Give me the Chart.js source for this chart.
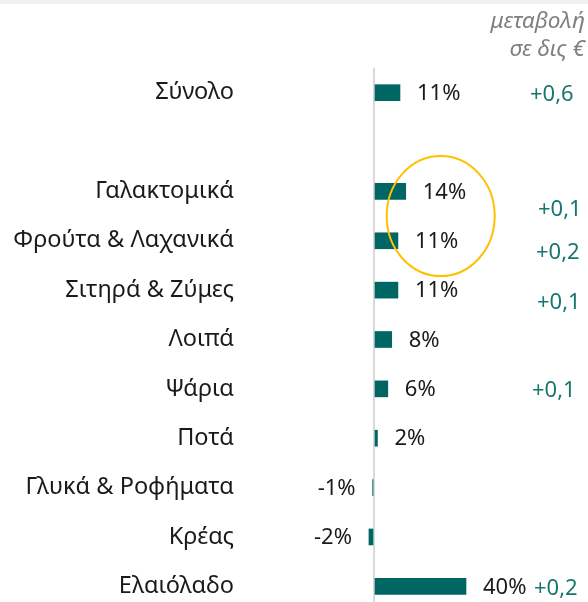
<!DOCTYPE html>
<html>
<head>
<meta charset="utf-8">
<script src="https://cdn.jsdelivr.net/npm/chart.js@4"></script>
<style>
  html, body { margin: 0; padding: 0; background: #fff; overflow: hidden; }
  #strip { position: absolute; left: 0; top: 0; width: 588px; height: 4px; background: #f0f0f0; }
  #wrap { width: 588px; height: 612px; }
</style>
</head>
<body>
<div id="wrap"><canvas id="foodChart" width="588" height="612"></canvas></div>
<div id="strip"></div>
<script>
// κατηγορίες (η κενή θέση είναι το κενό κάτω από το Σύνολο)
const categories = ["Σύνολο", "", "Γαλακτομικά", "Φρούτα & Λαχανικά", "Σιτηρά & Ζύμες",
  "Λοιπά", "Ψάρια", "Ποτά", "Γλυκά & Ροφήματα", "Κρέας", "Ελαιόλαδο"];
// ποσοστιαία μεταβολή (μήκος μπάρας)
const pctChange = [11.3, null, 13.8, 10.4, 10.4, 7.7, 6.0, 1.5, -0.6, -2.2, 40.0];
// ετικέτες ποσοστού όπως φαίνονται
const pctLabels = ["11%", "", "14%", "11%", "11%", "8%", "6%", "2%", "-1%", "-2%", "40%"];
// μεταβολή σε δις €
const euroChange = ["+0,6", "", "+0,1", "+0,2", "+0,1", "", "+0,1", "", "", "", "+0,2"];

// θέση της στήλης δεξιά (x σε px, μετατόπιση y σε px)
const colX = [530, 0, 538, 536, 537, 0, 532, 0, 0, 0, 534];
const colDy = [2, 0, 18, 12, 13, 0, 2, 0, 0, 0, 2];

const FONT = "'Noto Sans', 'Open Sans', sans-serif";
const TEAL = "#006663";

const labelsPlugin = {
  id: "labelsPlugin",
  afterDatasetsDraw(chart) {
    const ctx = chart.ctx;
    const meta = chart.getDatasetMeta(0);
    const xs = chart.scales.x;
    const ys = chart.scales.y;
    ctx.save();
    ctx.font = "22px " + FONT;
    ctx.textBaseline = "middle";
    meta.data.forEach((bar, i) => {
      if (pctChange[i] === null) return;
      ctx.fillStyle = "#1a1a1a";
      if (pctChange[i] >= 0) {
        ctx.textAlign = "left";
        ctx.fillText(pctLabels[i], bar.x + 17, bar.y + 1);
      } else {
        ctx.textAlign = "right";
        ctx.fillText(pctLabels[i], Math.min(bar.x, bar.base) - 17, bar.y + 1);
      }
      if (euroChange[i]) {
        ctx.fillStyle = "#17766e";
        ctx.textAlign = "left";
        ctx.fillText(euroChange[i], colX[i], ys.getPixelForValue(i) + colDy[i]);
      }
    });

    // επικεφαλίδα στήλης
    ctx.fillStyle = "#7f7f7f";
    ctx.font = "italic 22.5px " + FONT;
    ctx.textAlign = "right";
    ctx.fillText("μεταβολή", 585, 22);
    ctx.fillText("σε δις €", 585, 50);

    // κίτρινος κύκλος γύρω από Γαλακτομικά / Φρούτα
    const cx = xs.getPixelForValue(29);
    const cy = (ys.getPixelForValue(2) + ys.getPixelForValue(3)) / 2;
    ctx.strokeStyle = "#FFC000";
    ctx.lineWidth = 2;
    ctx.beginPath();
    ctx.ellipse(cx, cy, 54, 60, 0, 0, Math.PI * 2);
    ctx.stroke();
    ctx.restore();
  }
};

const ctx = document.getElementById("foodChart").getContext("2d");
const chart = new Chart(ctx, {
  type: "bar",
  data: {
    labels: categories,
    datasets: [{
      data: pctChange,
      backgroundColor: TEAL,
      barThickness: 16,
      borderWidth: 0
    }]
  },
  options: {
    indexAxis: "y",
    responsive: false,
    animation: false,
    layout: { padding: { top: 68, right: 99, bottom: 1, left: 0 } },
    plugins: { legend: { display: false }, tooltip: { enabled: false } },
    scales: {
      x: {
        min: -50,
        max: 50,
        afterFit: s => { s.height = 0; },
        ticks: { display: false },
        border: { display: false },
        grid: {
          drawTicks: false,
          color: c => (c.tick && c.tick.value === 0 ? "#d9d9d9" : "transparent"),
          lineWidth: 2
        }
      },
      y: {
        afterFit: s => { s.width = 259; s.paddingTop = 0; s.paddingBottom = 0; },
        border: { display: false },
        grid: { display: false, drawTicks: false },
        ticks: {
          padding: 25,
          color: "#1a1a1a",
          font: { family: FONT, size: 23.5 }
        }
      }
    }
  },
  plugins: [labelsPlugin]
});
</script>
</body>
</html>
